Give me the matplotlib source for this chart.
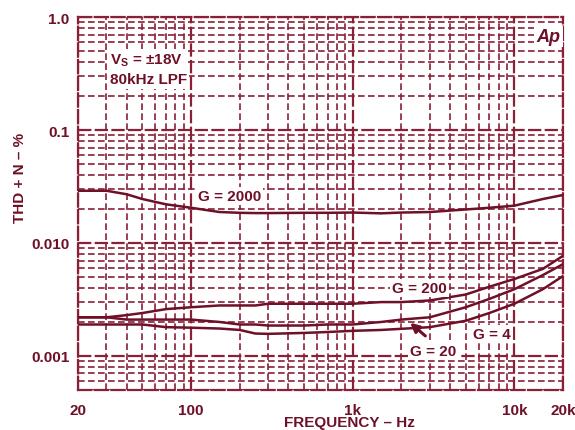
import matplotlib
matplotlib.use("Agg")
import matplotlib.pyplot as plt
from matplotlib.ticker import FixedLocator, LogLocator, NullFormatter

plt.rcParams['font.family'] = ['Liberation Sans', 'DejaVu Sans']
plt.rcParams['mathtext.fontset'] = 'custom'
plt.rcParams['mathtext.bf'] = 'Liberation Sans:bold'
plt.rcParams['mathtext.rm'] = 'Liberation Sans:bold'

# data
freq = [20, 30, 40, 50, 70, 100, 150, 200, 250, 300, 500, 700, 1000,
        1500, 2000, 3000, 5000, 7000, 10000, 15000, 20000]
thd_g2000 = [0.029, 0.029, 0.027, 0.0245, 0.022, 0.0205, 0.0188, 0.0185, 0.0184, 0.0184,
             0.0185, 0.0185, 0.0186, 0.0183, 0.0186, 0.0188, 0.0198, 0.0205, 0.0214, 0.0245, 0.0266]
thd_g200 = [0.0022, 0.0022, 0.0023, 0.0024, 0.0026, 0.0027, 0.0028, 0.0028, 0.0028, 0.0029,
            0.0029, 0.0029, 0.0029, 0.0030, 0.0030, 0.0031, 0.0035, 0.0041, 0.0048, 0.0059, 0.0077]
thd_g20 = [0.0022, 0.0022, 0.0021, 0.0021, 0.0021, 0.0021, 0.0020, 0.0019, 0.0019, 0.00186,
           0.00186, 0.0019, 0.0019, 0.0020, 0.0021, 0.0022, 0.0027, 0.0032, 0.0039, 0.0052, 0.0065]
thd_g4 = [0.0019, 0.0019, 0.0019, 0.0019, 0.0018, 0.00178, 0.00175, 0.0017, 0.00158, 0.00157,
          0.0016, 0.00163, 0.00167, 0.0017, 0.00174, 0.0018, 0.00205, 0.0024, 0.0029, 0.0039, 0.0051]

x_ticks = [20, 100, 1000, 10000, 20000]
x_labels = ["20", "100", "1k", "10k", "20k"]
y_ticks = [0.001, 0.01, 0.1, 1.0]
y_labels = ["0.001", "0.010", "0.1", "1.0"]

ink = '#6e1027'
grid_ink = '#8a1f38'

fig = plt.figure(figsize=(5.75, 4.31), dpi=100)
ax = fig.add_axes([0.1357, 0.0928, 0.8435, 0.8654])

for vals in (thd_g2000, thd_g200, thd_g20, thd_g4):
    ax.plot(freq, vals, color=ink, lw=1.8, zorder=3)

ax.set_xscale('log')
ax.set_yscale('log')
ax.set_xlim(20, 20000)
ax.set_ylim(0.0005, 1.0)

ax.xaxis.set_major_locator(FixedLocator(x_ticks))
ax.set_xticklabels(x_labels)
ax.xaxis.set_minor_locator(LogLocator(base=10, subs=range(2, 10)))
ax.xaxis.set_minor_formatter(NullFormatter())
ax.yaxis.set_major_locator(FixedLocator(y_ticks))
ax.set_yticklabels(y_labels)
ax.yaxis.set_minor_locator(LogLocator(base=10, subs=range(2, 10)))
ax.yaxis.set_minor_formatter(NullFormatter())

ax.tick_params(which='both', length=0, colors=ink)
ax.tick_params(axis='x', pad=9, labelsize=11)
ax.tick_params(axis='y', pad=6, labelsize=11)
for lbl in ax.get_xticklabels() + ax.get_yticklabels():
    lbl.set_fontweight('bold')

ax.grid(which='major', color=grid_ink, lw=1.6, ls=(0, (6, 1.5)))
ax.grid(which='minor', color=grid_ink, lw=1.2, ls=(0, (4, 2)))
for sp in ax.spines.values():
    sp.set_color(grid_ink)
    sp.set_linestyle((0, (6, 1.5)))
    sp.set_linewidth(1.6)

ax.set_xlabel("FREQUENCY – Hz", fontsize=11, fontweight='bold', color=ink)
ax.set_ylabel("THD + N – %", fontsize=11, fontweight='bold', color=ink)
ax.xaxis.set_label_coords(0.56, -0.068)
ax.yaxis.set_label_coords(-0.105, 0.57)

box = dict(facecolor='white', edgecolor='none', pad=1.5)
ax.text(31.5, 0.42, r"V$_\mathbf{S}$ = ±18V", fontsize=11, fontweight='bold',
        color=ink, va='center', ha='left', bbox=box, zorder=4)
ax.text(31.5, 0.28, "80kHz LPF", fontsize=11, fontweight='bold',
        color=ink, va='center', ha='left', bbox=box, zorder=4)
ax.text(110, 0.026, "G = 2000", fontsize=11, fontweight='bold',
        color=ink, va='center', ha='left', bbox=box, zorder=4)
ax.text(1750, 0.0040, "G = 200", fontsize=11, fontweight='bold',
        color=ink, va='center', ha='left', bbox=box, zorder=4)
ax.text(2260, 0.00111, "G = 20", fontsize=11, fontweight='bold',
        color=ink, va='center', ha='left', bbox=box, zorder=4)
ax.text(5540, 0.00157, "G = 4", fontsize=11, fontweight='bold',
        color=ink, va='center', ha='left', bbox=box, zorder=4)
ax.annotate("", xy=(2200, 0.00204), xytext=(2900, 0.00145),
            arrowprops=dict(arrowstyle='-|>', color=ink, lw=2.2, mutation_scale=13),
            zorder=5)
ax.text(0.995, 0.97, "Ap", transform=ax.transAxes, fontsize=13, fontweight='bold',
        fontstyle='italic', color=ink, va='top', ha='right',
        bbox=dict(facecolor='white', edgecolor='none', pad=1.5), zorder=4)

fig.savefig("out.png", dpi=100)
